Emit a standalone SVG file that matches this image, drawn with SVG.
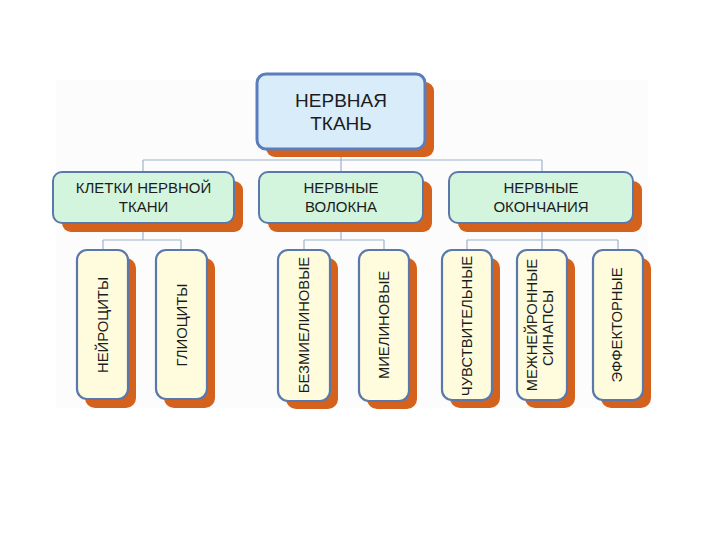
<svg xmlns="http://www.w3.org/2000/svg" width="720" height="540" viewBox="0 0 720 540">
<style>
.sh{fill:#d4621c}
.top{fill:#d8ecfa;stroke:#5b7dbd;stroke-width:3}
.mid{fill:#d3f4dd;stroke:#5a78ab;stroke-width:2}
.leaf{fill:#fefcdc;stroke:#5a78ab;stroke-width:2.2}
.t{font-family:"Liberation Sans",Arial,sans-serif;fill:#1c1c1c;text-anchor:middle}
.t1{font-size:19px}
.t2{font-size:15px}
.t3{font-size:14.8px}
.c{fill:none;stroke:#9db2cc;stroke-width:1.2}
</style>
<rect x="56" y="80" width="592" height="328" fill="#fcfcfc"/>
<g id="connectors">
<path class="c" d="M341 157V160M143 160H542M143 160V172M341 160V172M542 160V172"/>
<path class="c" d="M143 232V240M103 240H181M103 240V250M181 240V250"/>
<path class="c" d="M341 232V240M304 240H384M304 240V250M384 240V250"/>
<path class="c" d="M542 232V250M467 240H618M467 240V250M618 240V250"/>
</g>
<g id="n-root">
<rect class="sh" x="266" y="82" width="168" height="75" rx="9"/>
<rect class="top" x="257" y="74" width="168" height="75" rx="9"/>
<text class="t t1" x="341" y="107">НЕРВНАЯ</text>
<text class="t t1" x="341" y="130">ТКАНЬ</text>
</g>
<g id="n-cells">
<rect class="sh" x="62" y="181" width="181" height="51" rx="9"/>
<rect class="mid" x="53" y="172" width="181" height="51" rx="9"/>
<text class="t t2" x="143.5" y="193">КЛЕТКИ НЕРВНОЙ</text>
<text class="t t2" x="143.5" y="212">ТКАНИ</text>
</g>
<g id="n-fibers">
<rect class="sh" x="268" y="181" width="164" height="51" rx="9"/>
<rect class="mid" x="259" y="172" width="164" height="51" rx="9"/>
<text class="t t2" x="341" y="193">НЕРВНЫЕ</text>
<text class="t t2" x="341" y="212">ВОЛОКНА</text>
</g>
<g id="n-endings">
<rect class="sh" x="458" y="181" width="184" height="51" rx="9"/>
<rect class="mid" x="449" y="172" width="184" height="51" rx="9"/>
<text class="t t2" x="541" y="193">НЕРВНЫЕ</text>
<text class="t t2" x="541" y="212">ОКОНЧАНИЯ</text>
</g>
<g id="n-neurocytes">
<rect class="sh" x="85" y="258" width="51" height="150" rx="10"/>
<rect class="leaf" x="77" y="250" width="51" height="149" rx="10"/>
<text class="t t3" transform="translate(102.5,325) rotate(-90)" dy="0.35em">НЕЙРОЦИТЫ</text>
</g>
<g id="n-gliocytes">
<rect class="sh" x="164" y="258" width="51" height="150" rx="10"/>
<rect class="leaf" x="156" y="250" width="51" height="149" rx="10"/>
<text class="t t3" transform="translate(181.5,325) rotate(-90)" dy="0.35em">ГЛИОЦИТЫ</text>
</g>
<g id="n-unmyelinated">
<rect class="sh" x="286" y="258" width="52" height="151" rx="10"/>
<rect class="leaf" x="278" y="250" width="52" height="151" rx="10"/>
<text class="t t3" transform="translate(304,325) rotate(-90)" dy="0.35em">БЕЗМИЕЛИНОВЫЕ</text>
</g>
<g id="n-myelinated">
<rect class="sh" x="367" y="258" width="50" height="151" rx="10"/>
<rect class="leaf" x="359" y="250" width="50" height="151" rx="10"/>
<text class="t t3" transform="translate(384,325) rotate(-90)" dy="0.35em">МИЕЛИНОВЫЕ</text>
</g>
<g id="n-sensory">
<rect class="sh" x="450" y="258" width="50" height="150" rx="10"/>
<rect class="leaf" x="442" y="250" width="50" height="150" rx="10"/>
<text class="t t3" transform="translate(467,326) rotate(-90)" dy="0.35em">ЧУВСТВИТЕЛЬНЫЕ</text>
</g>
<g id="n-synapses">
<rect class="sh" x="525" y="258" width="50" height="150" rx="10"/>
<rect class="leaf" x="517" y="250" width="50" height="150" rx="10"/>
<text class="t t3" transform="translate(537,325) rotate(-90)">МЕЖНЕЙРОННЫЕ</text>
<text class="t t3" transform="translate(553,328) rotate(-90)">СИНАПСЫ</text>
</g>
<g id="n-effector">
<rect class="sh" x="601" y="258" width="50" height="150" rx="10"/>
<rect class="leaf" x="593" y="250" width="50" height="150" rx="10"/>
<text class="t t3" transform="translate(617,325) rotate(-90)" dy="0.35em">ЭФФЕКТОРНЫЕ</text>
</g>
</svg>
